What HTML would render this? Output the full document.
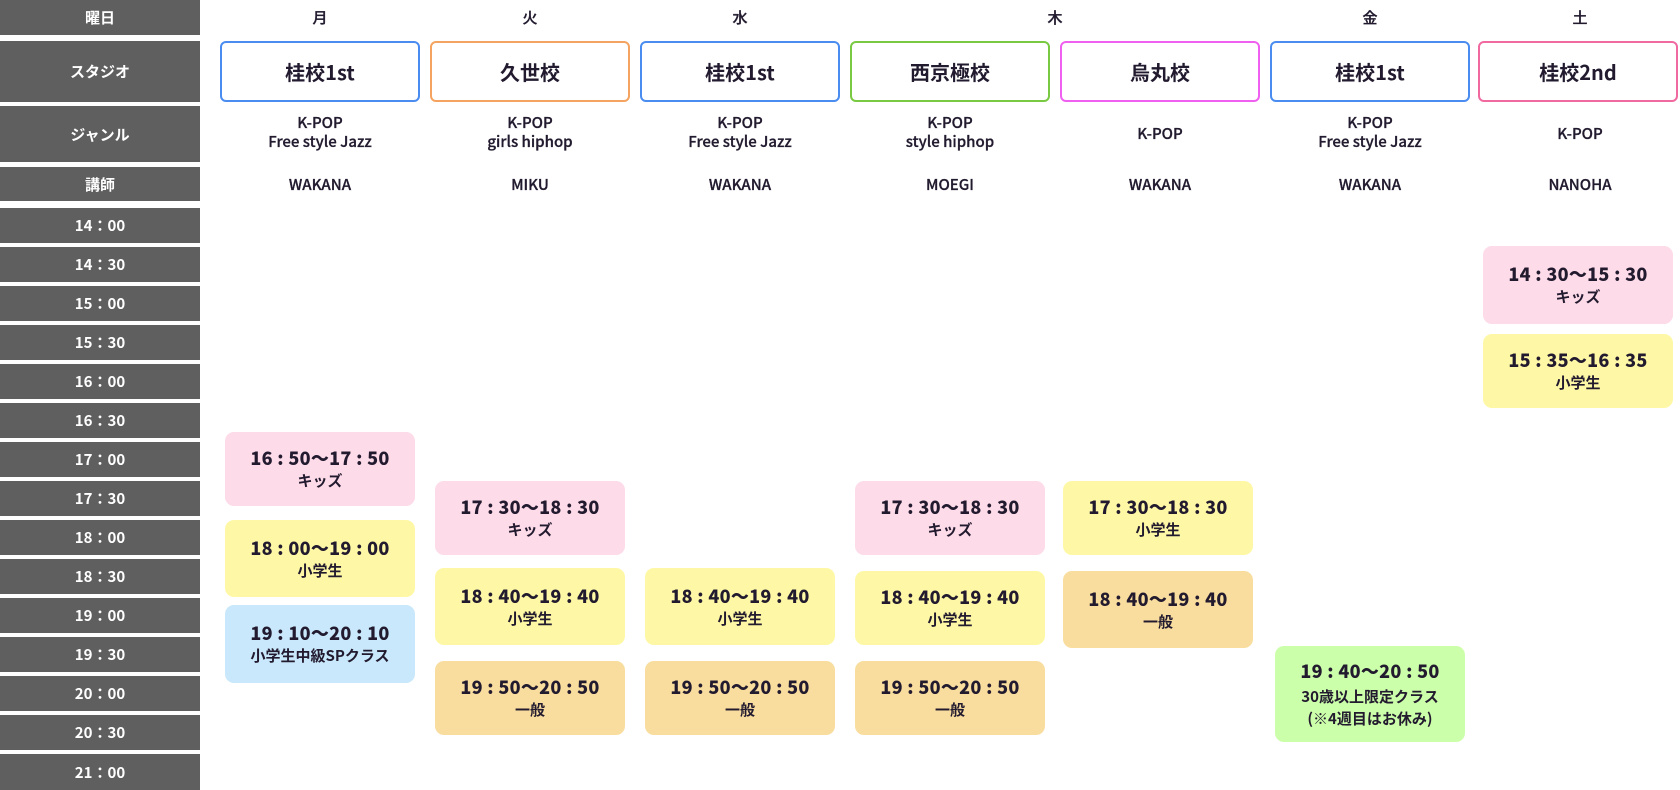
<!DOCTYPE html>
<html><head><meta charset="utf-8"><style>
*{margin:0;padding:0;box-sizing:border-box}
body{width:1680px;height:790px;background:#fff;position:relative;overflow:hidden;font-family:"Noto Sans CJK JP","Liberation Sans",sans-serif;color:#221a2e}
.l{position:absolute;left:0;width:200px;background:#5f5f5f;color:#fff;font-weight:bold;font-size:15px;display:flex;align-items:center;justify-content:center}
.t{position:absolute;text-align:center;font-weight:500;font-size:15px;line-height:19px;-webkit-text-stroke:0.3px #221a2e}
.s{position:absolute;top:41px;height:61px;width:200px;border:2px solid;border-radius:6px;display:flex;align-items:center;justify-content:center;font-size:20px;font-weight:bold;background:#fff}
.c{position:absolute;width:190px;border-radius:9px;display:flex;flex-direction:column;align-items:center;justify-content:center;font-weight:bold;text-align:center}
.c b{font-size:18px;line-height:24px;letter-spacing:.3px}
.c span{font-size:15px;line-height:22px}
.pk{background:#fddbe8}.yl{background:#fef8a6}.bl{background:#c9e8fb}.or{background:#f9dd9e}.gr{background:#ccffaa}
</style></head><body>
<div class="l" style="top:0;height:35px">曜日</div>
<div class="l" style="top:41px;height:61px">スタジオ</div>
<div class="l" style="top:106px;height:56px">ジャンル</div>
<div class="l" style="top:167px;height:34px">講師</div>
<div class="l" style="top:208px;height:35px">14：00</div>
<div class="l" style="top:247px;height:35px">14：30</div>
<div class="l" style="top:286px;height:35px">15：00</div>
<div class="l" style="top:325px;height:35px">15：30</div>
<div class="l" style="top:364px;height:35px">16：00</div>
<div class="l" style="top:403px;height:35px">16：30</div>
<div class="l" style="top:442px;height:35px">17：00</div>
<div class="l" style="top:481px;height:35px">17：30</div>
<div class="l" style="top:520px;height:35px">18：00</div>
<div class="l" style="top:559px;height:35px">18：30</div>
<div class="l" style="top:598px;height:35px">19：00</div>
<div class="l" style="top:637px;height:35px">19：30</div>
<div class="l" style="top:676px;height:35px">20：00</div>
<div class="l" style="top:715px;height:35px">20：30</div>
<div class="l" style="top:754px;height:36px">21：00</div>

<div class="t" style="left:220px;width:200px;top:8px">月</div>
<div class="t" style="left:430px;width:200px;top:8px">火</div>
<div class="t" style="left:640px;width:200px;top:8px">水</div>
<div class="t" style="left:850px;width:410px;top:8px">木</div>
<div class="t" style="left:1270px;width:200px;top:8px">金</div>
<div class="t" style="left:1480px;width:200px;top:8px">土</div>

<div class="s" style="left:220px;border-color:#4a8cf0">桂校1st</div>
<div class="s" style="left:430px;border-color:#f4a460">久世校</div>
<div class="s" style="left:640px;border-color:#4a8cf0">桂校1st</div>
<div class="s" style="left:850px;border-color:#7ac943">西京極校</div>
<div class="s" style="left:1060px;border-color:#f060f0">烏丸校</div>
<div class="s" style="left:1270px;border-color:#4a8cf0">桂校1st</div>
<div class="s" style="left:1478px;border-color:#f06aa0">桂校2nd</div>

<div class="t" style="left:220px;width:200px;top:113px">K-POP<br>Free style Jazz</div>
<div class="t" style="left:430px;width:200px;top:113px">K-POP<br>girls hiphop</div>
<div class="t" style="left:640px;width:200px;top:113px">K-POP<br>Free style Jazz</div>
<div class="t" style="left:850px;width:200px;top:113px">K-POP<br>style hiphop</div>
<div class="t" style="left:1060px;width:200px;top:124px">K-POP</div>
<div class="t" style="left:1270px;width:200px;top:113px">K-POP<br>Free style Jazz</div>
<div class="t" style="left:1480px;width:200px;top:124px">K-POP</div>

<div class="t" style="left:220px;width:200px;top:175px">WAKANA</div>
<div class="t" style="left:430px;width:200px;top:175px">MIKU</div>
<div class="t" style="left:640px;width:200px;top:175px">WAKANA</div>
<div class="t" style="left:850px;width:200px;top:175px">MOEGI</div>
<div class="t" style="left:1060px;width:200px;top:175px">WAKANA</div>
<div class="t" style="left:1270px;width:200px;top:175px">WAKANA</div>
<div class="t" style="left:1480px;width:200px;top:175px">NANOHA</div>

<div class="c pk" style="left:225px;top:432px;height:74px"><b>16 : 50〜17 : 50</b><span>キッズ</span></div>
<div class="c yl" style="left:225px;top:520px;height:77px"><b>18 : 00〜19 : 00</b><span>小学生</span></div>
<div class="c bl" style="left:225px;top:605px;height:78px"><b>19 : 10〜20 : 10</b><span>小学生中級SPクラス</span></div>

<div class="c pk" style="left:435px;top:481px;height:74px"><b>17 : 30〜18 : 30</b><span>キッズ</span></div>
<div class="c yl" style="left:435px;top:568px;height:77px"><b>18 : 40〜19 : 40</b><span>小学生</span></div>
<div class="c or" style="left:435px;top:661px;height:74px"><b>19 : 50〜20 : 50</b><span>一般</span></div>

<div class="c yl" style="left:645px;top:568px;height:77px"><b>18 : 40〜19 : 40</b><span>小学生</span></div>
<div class="c or" style="left:645px;top:661px;height:74px"><b>19 : 50〜20 : 50</b><span>一般</span></div>

<div class="c pk" style="left:855px;top:481px;height:74px"><b>17 : 30〜18 : 30</b><span>キッズ</span></div>
<div class="c yl" style="left:855px;top:571px;height:74px"><b>18 : 40〜19 : 40</b><span>小学生</span></div>
<div class="c or" style="left:855px;top:661px;height:74px"><b>19 : 50〜20 : 50</b><span>一般</span></div>

<div class="c yl" style="left:1063px;top:481px;height:74px"><b>17 : 30〜18 : 30</b><span>小学生</span></div>
<div class="c or" style="left:1063px;top:571px;height:77px"><b>18 : 40〜19 : 40</b><span>一般</span></div>

<div class="c gr" style="left:1275px;top:646px;height:96px"><b>19 : 40〜20 : 50</b><span style="margin-top:3px">30歳以上限定クラス<br>(※4週目はお休み)</span></div>

<div class="c pk" style="left:1483px;top:246px;height:78px"><b>14 : 30〜15 : 30</b><span>キッズ</span></div>
<div class="c yl" style="left:1483px;top:334px;height:74px"><b>15 : 35〜16 : 35</b><span>小学生</span></div>
</body></html>
